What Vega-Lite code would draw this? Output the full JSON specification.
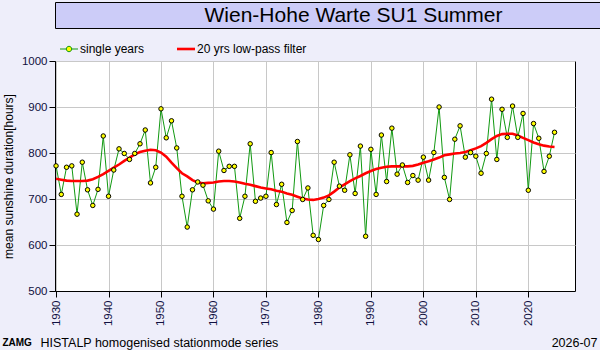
{
 "$schema": "https://vega.github.io/schema/vega-lite/v6.json",
 "background": "#EEEEFA",
 "padding": {"left": 1, "top": 1, "right": 1, "bottom": 1},
 "spacing": 13,
 "config": {
  "font": "Liberation Sans",
  "view": {"stroke": "#000000", "strokeWidth": 1}
 },
 "resolve": {"legend": {"color": "independent"}},
 "vconcat": [
  {
   "width": 597,
   "height": 26,
   "view": {"fill": "#CCCCF8", "stroke": "#000000"},
   "data": {"values": [{"t": "Wien-Hohe Warte SU1 Summer"}]},
   "mark": {"type": "text", "fontSize": 21, "color": "#000000", "baseline": "middle", "dy": 1},
   "encoding": {"text": {"field": "t"}}
  },
  {
   "resolve": {"legend": {"color": "independent"}},
   "hconcat": [
    {
     "width": 520,
     "height": 230,
     "view": {"fill": "#FFFFFF", "stroke": "#000000"},
     "title": {"text": "ZAMG", "orient": "bottom", "anchor": "start", "fontSize": 10, "fontWeight": "bold", "color": "#000000", "offset": 0, "dy": -11},
     "data": {"values": [
      {"year": 1930, "years": 772, "filter": 744},
      {"year": 1931, "years": 710, "filter": 742},
      {"year": 1932, "years": 769, "filter": 740},
      {"year": 1933, "years": 772, "filter": 739},
      {"year": 1934, "years": 667, "filter": 739},
      {"year": 1935, "years": 780, "filter": 739},
      {"year": 1936, "years": 720, "filter": 740},
      {"year": 1937, "years": 686, "filter": 743},
      {"year": 1938, "years": 721, "filter": 748},
      {"year": 1939, "years": 837, "filter": 754},
      {"year": 1940, "years": 706, "filter": 761},
      {"year": 1941, "years": 763, "filter": 768},
      {"year": 1942, "years": 809, "filter": 775},
      {"year": 1943, "years": 799, "filter": 783},
      {"year": 1944, "years": 786, "filter": 790},
      {"year": 1945, "years": 799, "filter": 797},
      {"year": 1946, "years": 820, "filter": 802},
      {"year": 1947, "years": 850, "filter": 805},
      {"year": 1948, "years": 735, "filter": 807},
      {"year": 1949, "years": 769, "filter": 806},
      {"year": 1950, "years": 896, "filter": 801},
      {"year": 1951, "years": 833, "filter": 792},
      {"year": 1952, "years": 870, "filter": 779},
      {"year": 1953, "years": 811, "filter": 767},
      {"year": 1954, "years": 706, "filter": 756},
      {"year": 1955, "years": 639, "filter": 749},
      {"year": 1956, "years": 720, "filter": 741},
      {"year": 1957, "years": 737, "filter": 736},
      {"year": 1958, "years": 730, "filter": 734},
      {"year": 1959, "years": 696, "filter": 735},
      {"year": 1960, "years": 678, "filter": 736},
      {"year": 1961, "years": 804, "filter": 738},
      {"year": 1962, "years": 762, "filter": 739},
      {"year": 1963, "years": 771, "filter": 739},
      {"year": 1964, "years": 771, "filter": 738},
      {"year": 1965, "years": 658, "filter": 736},
      {"year": 1966, "years": 706, "filter": 733},
      {"year": 1967, "years": 820, "filter": 731},
      {"year": 1968, "years": 695, "filter": 728},
      {"year": 1969, "years": 702, "filter": 725},
      {"year": 1970, "years": 706, "filter": 723},
      {"year": 1971, "years": 801, "filter": 721},
      {"year": 1972, "years": 688, "filter": 718},
      {"year": 1973, "years": 732, "filter": 716},
      {"year": 1974, "years": 649, "filter": 712},
      {"year": 1975, "years": 675, "filter": 709},
      {"year": 1976, "years": 825, "filter": 705},
      {"year": 1977, "years": 699, "filter": 701},
      {"year": 1978, "years": 724, "filter": 699},
      {"year": 1979, "years": 621, "filter": 698},
      {"year": 1980, "years": 612, "filter": 700},
      {"year": 1981, "years": 686, "filter": 703},
      {"year": 1982, "years": 699, "filter": 708},
      {"year": 1983, "years": 780, "filter": 716},
      {"year": 1984, "years": 728, "filter": 725},
      {"year": 1985, "years": 719, "filter": 732},
      {"year": 1986, "years": 796, "filter": 739},
      {"year": 1987, "years": 712, "filter": 745},
      {"year": 1988, "years": 815, "filter": 750},
      {"year": 1989, "years": 619, "filter": 756},
      {"year": 1990, "years": 808, "filter": 761},
      {"year": 1991, "years": 710, "filter": 765},
      {"year": 1992, "years": 839, "filter": 768},
      {"year": 1993, "years": 738, "filter": 770},
      {"year": 1994, "years": 854, "filter": 771},
      {"year": 1995, "years": 754, "filter": 771},
      {"year": 1996, "years": 774, "filter": 771},
      {"year": 1997, "years": 736, "filter": 771},
      {"year": 1998, "years": 751, "filter": 772},
      {"year": 1999, "years": 741, "filter": 775},
      {"year": 2000, "years": 791, "filter": 779},
      {"year": 2001, "years": 741, "filter": 782},
      {"year": 2002, "years": 801, "filter": 786},
      {"year": 2003, "years": 900, "filter": 790},
      {"year": 2004, "years": 747, "filter": 795},
      {"year": 2005, "years": 699, "filter": 797},
      {"year": 2006, "years": 830, "filter": 799},
      {"year": 2007, "years": 859, "filter": 800},
      {"year": 2008, "years": 791, "filter": 802},
      {"year": 2009, "years": 801, "filter": 806},
      {"year": 2010, "years": 793, "filter": 810},
      {"year": 2011, "years": 756, "filter": 815},
      {"year": 2012, "years": 799, "filter": 822},
      {"year": 2013, "years": 917, "filter": 830},
      {"year": 2014, "years": 786, "filter": 837},
      {"year": 2015, "years": 895, "filter": 841},
      {"year": 2016, "years": 834, "filter": 842},
      {"year": 2017, "years": 902, "filter": 842},
      {"year": 2018, "years": 834, "filter": 838},
      {"year": 2019, "years": 886, "filter": 833},
      {"year": 2020, "years": 719, "filter": 828},
      {"year": 2021, "years": 864, "filter": 823},
      {"year": 2022, "years": 832, "filter": 819},
      {"year": 2023, "years": 760, "filter": 816},
      {"year": 2024, "years": 793, "filter": 814},
      {"year": 2025, "years": 845, "filter": 813}
     ]},
     "encoding": {
      "x": {
       "field": "year", "type": "quantitative",
       "scale": {"domain": [1929.8, 2028.9], "nice": false, "zero": false},
       "axis": {
        "values": [1930, 1940, 1950, 1960, 1970, 1980, 1990, 2000, 2010, 2020],
        "format": "d",
        "labelAngle": -90,
        "labelFontSize": 11.5,
        "labelColor": "#101040",
        "labelPadding": 3,
        "tickSize": 6,
        "tickColor": "#000000",
        "domainColor": "#000000",
        "gridColor": "#C8C8C8",
        "title": "HISTALP homogenised stationmode series",
        "titleFontSize": 12.5,
        "titleFontWeight": "normal",
        "titleColor": "#000000",
        "titleAnchor": "start",
        "titleAlign": "left",
        "titleBaseline": "alphabetic",
        "titleX": -15,
        "titleY": 55
       }
      }
     },
     "resolve": {"scale": {"y": "independent"}},
     "layer": [
      {
       "layer": [
        {
         "mark": {"type": "line", "strokeWidth": 1},
         "encoding": {
          "y": {
           "field": "years", "type": "quantitative",
           "scale": {"domain": [500, 1000], "nice": false, "zero": false},
           "axis": {
            "orient": "left",
            "values": [500, 600, 700, 800, 900, 1000],
            "format": "d",
            "labelFontSize": 11.5,
            "labelColor": "#101040",
            "labelPadding": 2,
            "tickSize": 6,
            "tickColor": "#000000",
            "domainColor": "#000000",
            "gridColor": "#C8C8C8",
            "title": "mean sunshine duration[hours]",
            "titleFontSize": 12,
            "titleFontWeight": "normal",
            "titleColor": "#000000",
            "titlePadding": 6
           }
          },
          "color": {
           "datum": "single years",
           "type": "nominal",
           "scale": {"domain": ["single years", "20 yrs low-pass filter"], "range": ["#119911", "#FF0000"]},
           "legend": {
            "orient": "top",
            "direction": "horizontal",
            "title": null,
            "labelFontSize": 12,
            "labelColor": "#000000",
            "symbolSize": 324,
            "symbolOffset": 8,
            "columnPadding": 26,
            "labelOffset": 5,
            "offset": 6,
            "encode": {
             "symbols": {
              "update": {
               "shape": {"signal": "datum.value === 'single years' ? 'M-1,0H-0.3M0.3,0H1M0.3,0A0.3,0.3 0 1,1 -0.3,0A0.3,0.3 0 1,1 0.3,0' : 'M-1,0H1'"},
               "strokeWidth": {"signal": "datum.value === 'single years' ? 1 : 2.6"},
               "fill": {"signal": "datum.value === 'single years' ? '#FFFF00' : 'transparent'"}
              }
             }
            }
           }
          }
         }
        },
        {
         "mark": {"type": "line", "strokeWidth": 2.6},
         "encoding": {
          "y": {"field": "filter", "type": "quantitative"},
          "color": {"datum": "20 yrs low-pass filter", "type": "nominal"}
         }
        }
       ]
      },
      {
       "mark": {"type": "point", "filled": true, "fill": "#FFFF00", "stroke": "#000000", "strokeWidth": 1, "size": 20, "opacity": 1},
       "encoding": {
        "y": {
         "field": "years", "type": "quantitative",
         "scale": {"domain": [500, 1000], "nice": false, "zero": false},
         "axis": {
          "orient": "right",
          "labels": false,
          "ticks": false,
          "domain": false,
          "grid": false,
          "title": "2026-07",
          "titleAngle": 0,
          "titleAlign": "right",
          "titleBaseline": "alphabetic",
          "titleX": 22,
          "titleY": 285,
          "titleFontSize": 12.5,
          "titleFontWeight": "normal",
          "titleColor": "#000000"
         }
        }
       }
      }
     ]
    }
   ]
  }
 ]
}
